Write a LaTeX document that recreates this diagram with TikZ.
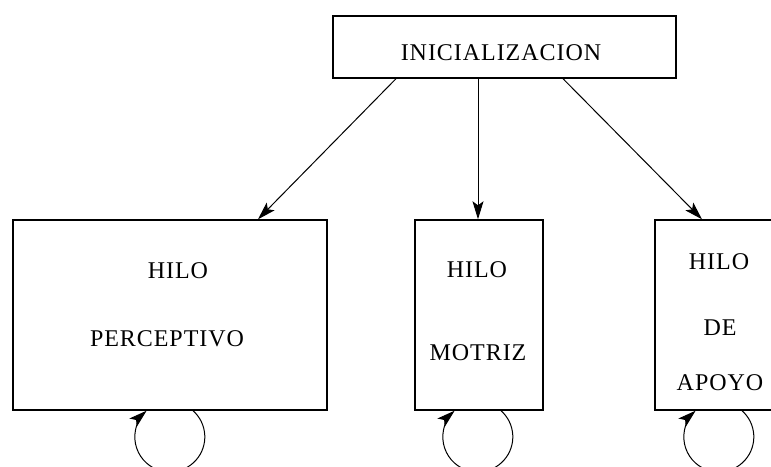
\documentclass[tikz,border=0pt]{standalone}
\usepackage{fontspec}
\newfontfamily\lblfont{Liberation Serif}[LetterSpace=4]
\usetikzlibrary{arrows.meta}
\begin{document}
\begin{tikzpicture}[x=1pt,y=1pt,
  box/.style={draw,line width=1.4pt,minimum width=#1,inner sep=0pt},
  lbl/.style={font=\lblfont\fontsize{24}{28}\selectfont,inner sep=0pt},
  tip/.style={-{Stealth[length=18pt,width=11pt,inset=4pt]}},
  conn/.style={line width=1pt,tip},
  selfloop/.style={line width=1pt,tip}]
\clip (0,0) rectangle (771,466);
% boxes
\node[box=343pt,minimum height=62pt] (init) at (504.5,419) {};
\node[box=314pt,minimum height=190pt] (per) at (170,151) {};
\node[box=128pt,minimum height=190pt] (mot) at (479,151) {};
\node[box=130pt,minimum height=190pt] (apo) at (720,151) {};
% labels
\node[lbl] (tinit) at (501,413) {INICIALIZACION};
\node[lbl] (tper1) at (178,195) {HILO};
\node[lbl] (tper2) at (167,127) {PERCEPTIVO};
\node[lbl] (tmot1) at (477,196) {HILO};
\node[lbl] (tmot2) at (478,113) {MOTRIZ};
\node[lbl] (tapo1) at (719,204) {HILO};
\node[lbl] (tapo2) at (720,138) {DE};
\node[lbl] (tapo3) at (720,83) {APOYO};
% connectors from the start box
\draw[conn] ([xshift=-108.5pt]init.south) -- ([xshift=88pt]per.north);
\draw[conn] ([xshift=-26.5pt]init.south) -- ([xshift=-1pt]mot.north);
\draw[conn] ([xshift=58.5pt]init.south) -- ([xshift=-18pt]apo.north);
% self loops under each thread
\draw[selfloop] ([xshift=23pt]per.south) arc[start angle=48.5,end angle=-228.5,radius=35];
\draw[selfloop] ([xshift=22pt]mot.south) arc[start angle=48.5,end angle=-228.5,radius=35];
\draw[selfloop] ([xshift=22pt]apo.south) arc[start angle=48.5,end angle=-228.5,radius=35];
\end{tikzpicture}
\end{document}
